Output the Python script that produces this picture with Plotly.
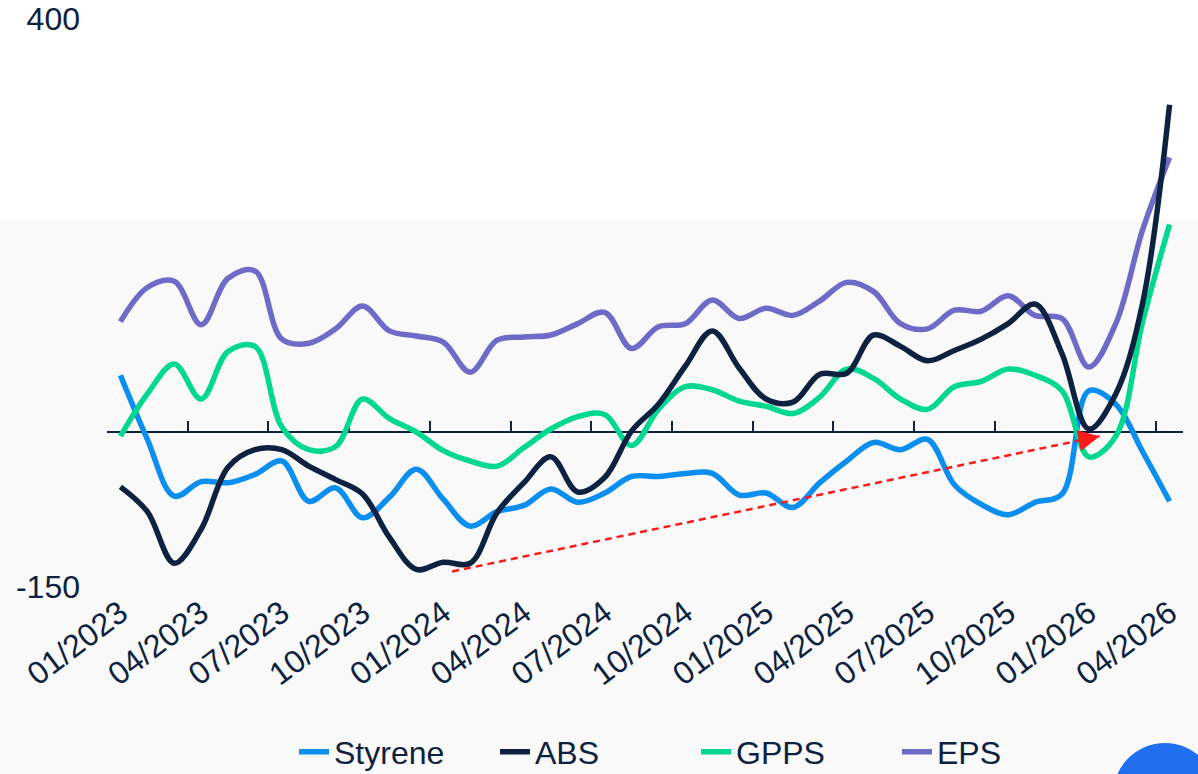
import plotly.graph_objects as go

months = [f"{m:02d}/{y}" for y in range(2023, 2027) for m in range(1, 13)][:40]
tick_labels = ["01/2023", "04/2023", "07/2023", "10/2023", "01/2024", "04/2024", "07/2024",
               "10/2024", "01/2025", "04/2025", "07/2025", "10/2025", "01/2026", "04/2026"]

styrene = [55, -7, -62, -48, -49, -41, -28, -67, -54, -83, -63, -36, -65, -91, -77, -71, -55, -68, -59, -43,
           -43, -40, -40, -61, -59, -73, -49, -28, -10, -17, -7, -51, -70, -80, -68, -60, 40, 27, -19, -67]
abs_ = [-53, -77, -127, -94, -34, -17, -17, -33, -46, -60, -102, -133, -126, -127, -78, -49, -24, -58, -44, 1,
        27, 64, 98, 62, 32, 29, 56, 57, 94, 83, 69, 79, 90, 105, 124, 76, 3, 37, 125, 317]
gpps = [-4, 37, 66, 32, 78, 83, 5, -17, -14, 32, 13, 0, -18, -28, -33, -15, 3, 15, 17, -13,
        22, 44, 41, 30, 25, 18, 34, 61, 52, 32, 22, 44, 49, 61, 55, 40, -24, -4, 107, 201]
eps = [107, 140, 146, 104, 149, 156, 90, 86, 100, 122, 98, 93, 87, 58, 89, 92, 94, 105, 116, 81,
       102, 105, 128, 110, 120, 113, 127, 145, 136, 105, 100, 118, 117, 132, 113, 110, 63, 105, 196, 266]

trend_x = [12.33, 36.4]
trend_y = [-135, -4]

NAVY = "#0d2240"
FONT = "Liberation Sans, Arial, sans-serif"

idx = list(range(len(months)))
series = [
    ("Styrene", styrene, "#0a8ff0"),
    ("EPS", eps, "#6e6ac8"),
    ("GPPS", gpps, "#00d890"),
    ("ABS", abs_, "#0d2240"),
]
legend_rank = {"Styrene": 1, "ABS": 2, "GPPS": 3, "EPS": 4}

fig = go.Figure()
for name, vals, col in series:
    fig.add_trace(go.Scatter(
        x=idx, y=vals, name=name, mode="lines",
        line=dict(color=col, width=5.5, shape="spline", smoothing=1.0),
        legendrank=legend_rank[name],
        customdata=months, hovertemplate="%{customdata}: %{y}<extra>" + name + "</extra>",
    ))

fig.add_trace(go.Scatter(
    x=trend_x, y=trend_y, mode="lines", xaxis="x2", showlegend=False,
    line=dict(color="#ff1a1a", width=2.5, dash="7px,5px"), hoverinfo="skip",
))

slope = (trend_y[1] - trend_y[0]) / (trend_x[1] - trend_x[0])
fig.add_annotation(
    x=trend_x[1], y=trend_y[1], xref="x", yref="y",
    ax=trend_x[1] - 0.6, ay=trend_y[1] - 0.6 * slope, axref="x", ayref="y",
    showarrow=True, arrowhead=2, arrowsize=1.7, arrowwidth=2.5, arrowcolor="#ff1a1a", text="",
)

W, H = 1198, 774
L, R, T, B = 107, 15, 19, 187
pw, ph = W - L - R, H - T - B


def px_x(p):
    return (p - L) / pw


def px_y(p):
    return (H - B - p) / ph


# light background band and page decoration
fig.add_shape(type="rect", xref="paper", yref="paper", layer="below",
              x0=px_x(0), x1=px_x(W), y0=px_y(H), y1=px_y(220),
              fillcolor="#f9f9f9", line_width=0)
fig.add_shape(type="circle", xref="paper", yref="paper", layer="above",
              x0=px_x(1113), x1=px_x(1217), y0=px_y(847), y1=px_y(743),
              fillcolor="#1f6fee", line_width=0)

tick_pos = [i for i in range(0, 40, 3)]
fig.update_layout(
    width=W, height=H, autosize=False,
    margin=dict(l=L, r=R, t=T, b=B, autoexpand=False),
    paper_bgcolor="white", plot_bgcolor="rgba(0,0,0,0)",
    font=dict(family=FONT, color=NAVY),
    showlegend=True,
    legend=dict(orientation="h", x=px_x(294), xanchor="left", y=px_y(752), yanchor="middle",
                font=dict(size=32, color=NAVY), bgcolor="rgba(0,0,0,0)",
                entrywidth=156, entrywidthmode="pixels", traceorder="normal"),
    xaxis=dict(range=[-0.5, 39.5], tickvals=tick_pos, ticktext=tick_labels, tickangle=-37,
               tickfont=dict(size=32, color=NAVY), showgrid=False, zeroline=False,
               showline=False, ticks="", automargin=False),
    xaxis2=dict(range=[-0.5, 39.5], overlaying="x", anchor="free", position=150 / 550,
                side="bottom", showline=True, linecolor=NAVY, linewidth=2,
                ticks="inside", tickvals=[i - 0.5 for i in range(0, 40, 3)], ticklen=10,
                tickwidth=2, tickcolor=NAVY, showticklabels=False, showgrid=False,
                zeroline=False, layer="below traces", automargin=False),
    yaxis=dict(range=[-150, 400], tickvals=[-150, 400], ticktext=["-150", "400"],
               tickfont=dict(size=32, color=NAVY), showgrid=False, zeroline=False,
               showline=False, ticks="", ticklabelstandoff=26, automargin=False),
)

fig.write_html("out.html", config={"displayModeBar": False},
               post_script="document.body.style.margin='0';document.body.style.overflow='hidden';")
